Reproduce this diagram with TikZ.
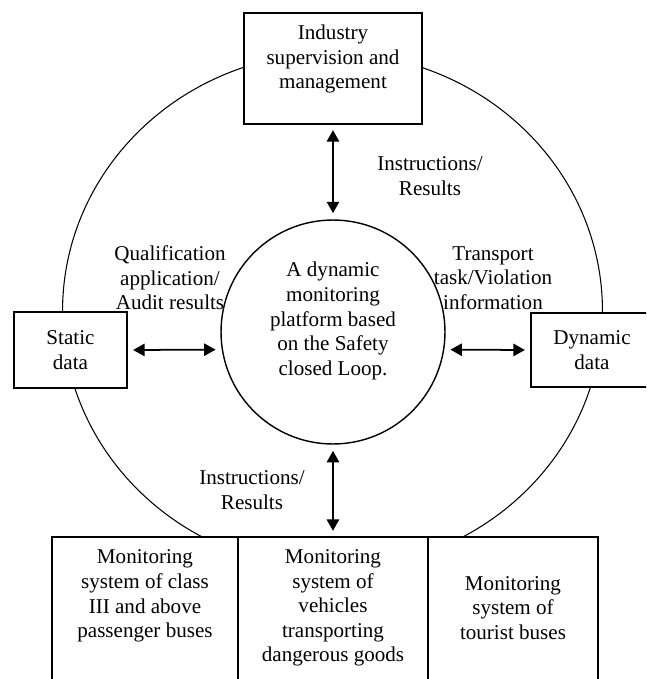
\documentclass[tikz,border=0pt]{standalone}
\usepackage{fontspec}
\setmainfont{Liberation Serif}
\usetikzlibrary{arrows.meta,positioning}

\begin{document}
\begin{tikzpicture}[x=0.02cm,y=-0.02cm,
        font=\fontsize{12}{14}\selectfont,
        sysbox/.style={draw,line width=0.8pt,fill=white,inner sep=0pt,outer sep=0pt},
        txt/.style={align=center,inner sep=0pt},
        link/.style={{Triangle[length=6.5pt,width=7pt]}-{Triangle[length=6.5pt,width=7pt]},
            line width=1pt,shorten <=3.5pt,shorten >=3.5pt}]
    \useasboundingbox (0,0) rectangle (646,679);
    \clip (0,0) rectangle (646,679);

    % Outer loop
    \draw[line width=0.6pt] (332.5,311) ellipse [x radius=5.4cm,y radius=5.16cm];

    % Platform in the middle
    \node[draw,circle,line width=0.8pt,minimum size=4.48cm,inner sep=0pt] (loop) at (333,332) {};
    \node[txt] (looptext) at (333,321) {A dynamic\\monitoring\\platform based\\on the Safety\\closed Loop.};

    % Supervision on top
    \node[sysbox,minimum width=3.56cm,minimum height=2.22cm] (industry) at (333,68.5) {};
    \node[txt] (industrytext) at (333,59) {Industry\\supervision and\\management};

    % Data sources left and right
    \node[sysbox,minimum width=2.26cm,minimum height=1.52cm,align=center] (static) at (70.5,350) {Static\\data};
    \node[sysbox,minimum width=2.44cm,minimum height=1.48cm,align=center] (dynamic) at (592,350) {Dynamic\\data};

    % Monitoring systems at the bottom
    \node[sysbox,anchor=north west,minimum width=3.72cm,minimum height=3.46cm] (passbox) at (52,537) {};
    \node[sysbox,right=0pt of passbox,minimum width=3.8cm,minimum height=3.46cm] (dangbox) {};
    \node[sysbox,right=0pt of dangbox,minimum width=3.4cm,minimum height=3.46cm] (tourbox) {};
    \node[txt] (passtext) at (145,596) {Monitoring\\system of class\\III and above\\passenger buses};
    \node[txt] (dangtext) at (333,608) {Monitoring\\system of\\vehicles\\transporting\\dangerous goods};
    \node[txt] (tourtext) at (513,608) {Monitoring\\system of\\tourist buses};

    % Exchanges with the platform
    \draw[link] (industry.south) -- (loop.north);
    \draw[link] (static.east) -- (loop.189);
    \draw[link] (loop.351) -- (dynamic.west);
    \draw[link] (loop.south) -- (dangbox.north);

    % Labels of the exchanges
    \node[txt] (toplabel) at (430,176) {Instructions/\\Results};
    \node[txt] (leftlabel) at (170,278) {Qualification\\application/\\Audit results};
    \node[txt] (rightlabel) at (493,278) {Transport\\task/Violation\\information};
    \node[txt] (bottomlabel) at (252,490) {Instructions/\\Results};
\end{tikzpicture}
\end{document}
